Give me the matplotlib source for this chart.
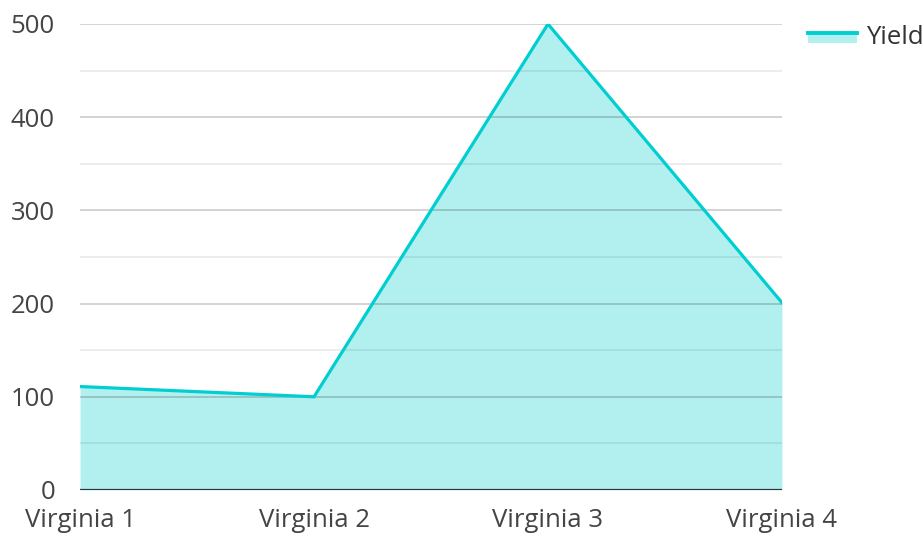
import matplotlib.pyplot as plt
from matplotlib.patches import Rectangle
from matplotlib.lines import Line2D
from matplotlib.legend_handler import HandlerBase

plt.rcParams['font.family'] = ['Open Sans', 'DejaVu Sans']

categories = ['Virginia 1', 'Virginia 2', 'Virginia 3', 'Virginia 4']
yield_values = [111, 100, 500, 201]
y_ticks = [0, 100, 200, 300, 400, 500]
y_minor = [50, 150, 250, 350, 450]

line_color = '#00CED1'
fill_color = '#B2EFEF'
font_size = 18.5


class AreaHandler(HandlerBase):
    # line on top of a short filled box, like the area legend swatch
    def create_artists(self, legend, orig_handle, xdescent, ydescent,
                       width, height, fontsize, trans):
        top = -ydescent + height * 0.62
        box = Rectangle((-xdescent, top - height * 0.58), width, height * 0.58,
                        facecolor=fill_color, edgecolor='none', transform=trans)
        ln = Line2D([-xdescent, -xdescent + width], [top, top],
                    color=line_color, lw=2.8, transform=trans)
        return [box, ln]


fig = plt.figure(figsize=(9.23, 5.33), dpi=100)
ax = fig.add_axes([0.0867, 0.0807, 0.7605, 0.8743])

x = list(range(len(categories)))
ax.fill_between(x, yield_values, 0, color=fill_color, lw=0, zorder=1)
line, = ax.plot(x, yield_values, color=line_color, lw=2.3, zorder=3,
                solid_joinstyle='miter')

# grid sits above the fill, it shows through
for v in y_ticks[1:]:
    ax.axhline(v, color='#000000', alpha=0.22, lw=1.1, zorder=2)
for v in y_minor:
    ax.axhline(v, color='#000000', alpha=0.09, lw=1.1, zorder=2)
ax.axhline(0, color='#333333', lw=1.6, zorder=4)

ax.set_xlim(0, 3)
ax.set_ylim(0, 500)
ax.set_yticks(y_ticks)
ax.set_xticks(x)
ax.set_xticklabels(categories)
ax.tick_params(axis='both', length=0, labelsize=font_size, colors='#444444')
ax.tick_params(axis='y', pad=18)
ax.tick_params(axis='x', pad=13)
for s in ax.spines.values():
    s.set_visible(False)

fig.legend([line], ['Yield'], handler_map={line: AreaHandler()},
           loc='upper left', bbox_to_anchor=(808 / 923, 1 - 25 / 533),
           frameon=False, fontsize=font_size, handlelength=1.9, handletextpad=0.35,
           borderpad=0, borderaxespad=0, labelcolor='#333333')

fig.savefig('out.png', dpi=100)
